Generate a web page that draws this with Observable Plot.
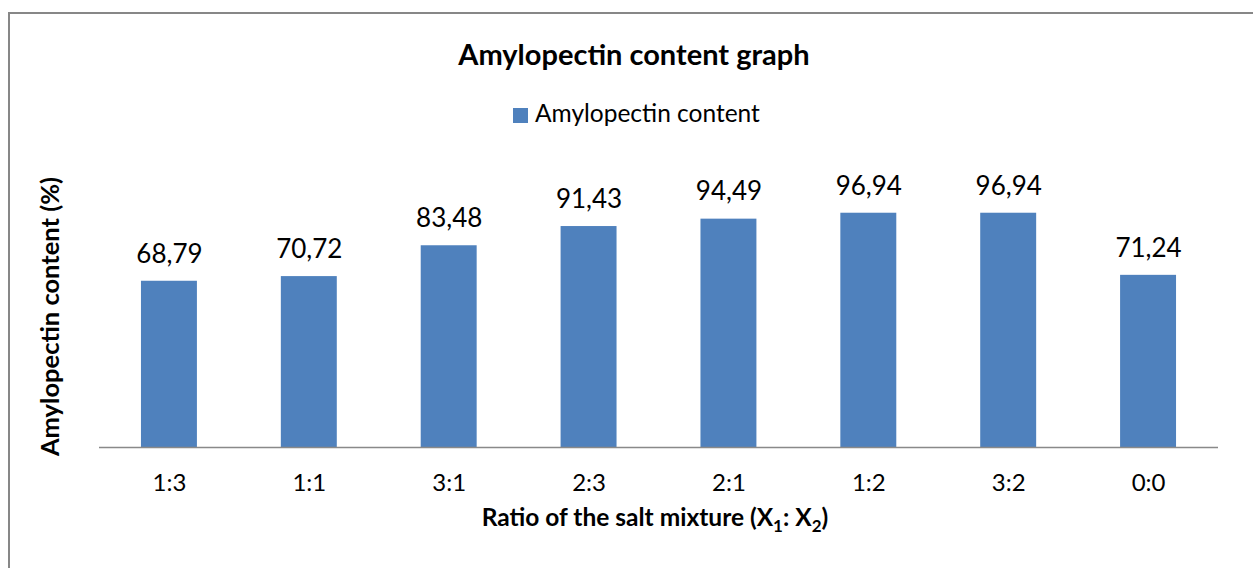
<!DOCTYPE html>
<html>
<head>
<meta charset="utf-8">
<script src="https://cdn.jsdelivr.net/npm/d3@7"></script>
<script src="https://cdn.jsdelivr.net/npm/@observablehq/plot@0.6"></script>
<style>
  html, body { margin: 0; padding: 0; background: #fff; }
  body { width: 1253px; height: 568px; overflow: hidden; position: relative; font-family: Lato, "Open Sans", sans-serif; }
  #frame { position: absolute; left: 8px; top: 12px; width: 1260px; height: 600px; border: 2px solid #878787; box-sizing: border-box; }
  #title { position: absolute; left: 0; width: 1268px; top: 39px; text-align: center; font-weight: bold; font-size: 29px; line-height: 29px; color: #000; white-space: nowrap; }
  #legend-sw { position: absolute; left: 513px; top: 108px; width: 15px; height: 15px; background: #4F81BD; }
  #legend-tx { position: absolute; left: 535px; top: 101px; font-size: 24.5px; line-height: 24.5px; color: #000; white-space: nowrap; }
  #chart { position: absolute; left: 0; top: 140px; }
</style>
</head>
<body>
<div id="frame"></div>
<div id="title">Amylopectin content graph</div>
<div id="legend-sw"></div>
<div id="legend-tx">Amylopectin content</div>
<div id="chart"></div>
<script>
const categories = ["1:3", "1:1", "3:1", "2:3", "2:1", "1:2", "3:2", "0:0"];
const values = [68.79, 70.72, 83.48, 91.43, 94.49, 96.94, 96.94, 71.24];
const labels = ["68,79", "70,72", "83,48", "91,43", "94,49", "96,94", "96,94", "71,24"];

const data = categories.map((c, i) => ({cat: c, value: values[i], label: labels[i]}));

const chart = Plot.plot({
  width: 1253,
  height: 428,
  marginLeft: 99,
  marginRight: 35,
  marginTop: 17,
  marginBottom: 121,
  style: {fontFamily: "Lato, 'Open Sans', sans-serif", background: "transparent", overflow: "visible"},
  x: {domain: categories, paddingInner: 0.6, paddingOuter: 0.3, round: false, label: null},
  y: {domain: [0, 120], axis: null},
  marks: [
    Plot.barY(data, {x: "cat", y: "value", fill: "#4F81BD"}),
    Plot.ruleY([0], {stroke: "#898989", strokeWidth: 1.5}),
    Plot.text(data, {x: "cat", y: "value", text: "label", dy: -27, fontSize: 26, fill: "#000"}),
    Plot.axisX({tickSize: 0, tickPadding: 26, fontSize: 24, color: "#000", label: null}),
    Plot.text(["Ratio of the salt mixture (X"], {frameAnchor: "bottom", dx: -4, dy: 78, text: d => d, fontSize: 24.5, fontWeight: "bold", fill: "#000"}),
    Plot.text(["Amylopectin content (%)"], {frameAnchor: "left", textAnchor: "middle", dx: -48.5, dy: 14, rotate: -90, text: d => d, fontSize: 25.5, fontWeight: "bold", fill: "#000"})
  ]
});
document.getElementById("chart").appendChild(chart);

// x title with subscripts
const svg = d3.select(chart);
svg.selectAll("text").filter(function() { return this.textContent === "Ratio of the salt mixture (X"; }).each(function() {
  const t = d3.select(this);
  t.text(null);
  t.append("tspan").text("Ratio of the salt mixture (X");
  t.append("tspan").attr("dy", 6).attr("font-size", 17).text("1");
  t.append("tspan").attr("dy", -6).text(": X");
  t.append("tspan").attr("dy", 6).attr("font-size", 17).text("2");
  t.append("tspan").attr("dy", -6).text(")");
});
</script>
</body>
</html>
